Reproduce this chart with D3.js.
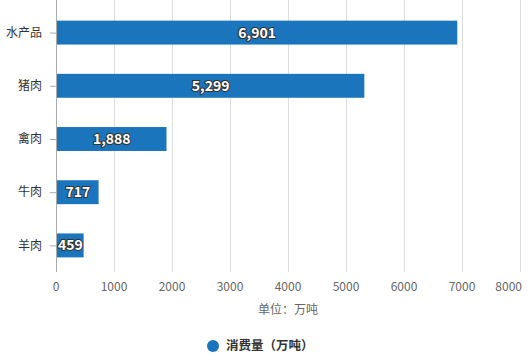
<!DOCTYPE html>
<html>
<head>
<meta charset="utf-8">
<script src="https://cdn.jsdelivr.net/npm/d3@7"></script>
<style>
body { margin: 0; background: #fff; }
text { font-family: "Noto Sans CJK SC", "Microsoft YaHei", sans-serif; }
</style>
</head>
<body>
<div id="vis"></div>
<script>
var width = 532,
    height = 356;

var categories = ["水产品", "猪肉", "禽肉", "牛肉", "羊肉"];
var values = [6901, 5299, 1888, 717, 459];
var ticks = [0, 1000, 2000, 3000, 4000, 5000, 6000, 7000, 8000];
var seriesName = "消费量（万吨）";
var unitLabel = "单位：万吨";

var color = "#1b75bc";

var svg = d3.select("#vis").append("svg")
    .attr("width", width)
    .attr("height", height);

var x = d3.scaleLinear().domain([0, 8000]).range([56, 520]);
var y = d3.scaleBand().domain(categories).range([6, 272]).paddingInner(0.55).paddingOuter(0.275);

// grid lines
svg.append("g").selectAll("line")
    .data(ticks)
    .enter().append("line")
    .attr("x1", function(d) { return x(d) + 0.5; })
    .attr("x2", function(d) { return x(d) + 0.5; })
    .attr("y1", 0)
    .attr("y2", 272)
    .attr("stroke", function(d) { return d === 0 ? "#aaa" : "#ddd"; })
    .attr("stroke-width", 1);

// y axis tick marks + labels
var yg = svg.append("g");
yg.selectAll("line")
    .data(categories)
    .enter().append("line")
    .attr("x1", 50)
    .attr("x2", 56)
    .attr("y1", function(d) { return y(d) + y.bandwidth() / 2 + 0.5; })
    .attr("y2", function(d) { return y(d) + y.bandwidth() / 2 + 0.5; })
    .attr("stroke", "#aaa");
yg.selectAll("text")
    .data(categories)
    .enter().append("text")
    .attr("x", 42)
    .attr("y", function(d) { return y(d) + y.bandwidth() / 2; })
    .attr("dy", "0.35em")
    .attr("text-anchor", "end")
    .attr("font-size", 12)
    .attr("fill", "#333")
    .text(function(d) { return d; });

// bars
svg.append("g").selectAll("rect")
    .data(values)
    .enter().append("rect")
    .attr("x", x(0) + 1)
    .attr("y", function(d, i) { return y(categories[i]); })
    .attr("width", function(d) { return x(d) - x(0); })
    .attr("height", y.bandwidth())
    .attr("fill", color);

// value labels
svg.append("g").selectAll("text")
    .data(values)
    .enter().append("text")
    .attr("x", function(d) { return (x(0) + x(d)) / 2 + 1; })
    .attr("y", function(d, i) { return y(categories[i]) + y.bandwidth() / 2; })
    .attr("dy", "0.36em")
    .attr("text-anchor", "middle")
    .attr("font-size", 14)
    .attr("font-weight", "bold")
    .attr("fill", "#fff")
    .attr("stroke", "#333")
    .attr("stroke-width", 2)
    .attr("paint-order", "stroke")
    .text(function(d) { return d3.format(",")(d); });

// x tick labels (last one pulled in to stay inside the frame)
svg.append("g").selectAll("text")
    .data(ticks)
    .enter().append("text")
    .attr("x", function(d, i) { return i === ticks.length - 1 ? x(d) + 2 : x(d); })
    .attr("y", 291)
    .attr("text-anchor", function(d, i) { return i === ticks.length - 1 ? "end" : "middle"; })
    .attr("font-size", 12)
    .attr("fill", "#666")
    .text(function(d) { return d; });

svg.append("text")
    .attr("x", 288)
    .attr("y", 314)
    .attr("text-anchor", "middle")
    .attr("font-size", 12)
    .attr("fill", "#666")
    .text(unitLabel);

// legend
var legend = svg.append("g");
legend.append("circle")
    .attr("cx", 213)
    .attr("cy", 346)
    .attr("r", 6)
    .attr("fill", color);
legend.append("text")
    .attr("x", 226)
    .attr("y", 346)
    .attr("dy", "0.35em")
    .attr("font-size", 12.5)
    .attr("font-weight", "bold")
    .attr("fill", "#333")
    .text(seriesName);
</script>
</body>
</html>
